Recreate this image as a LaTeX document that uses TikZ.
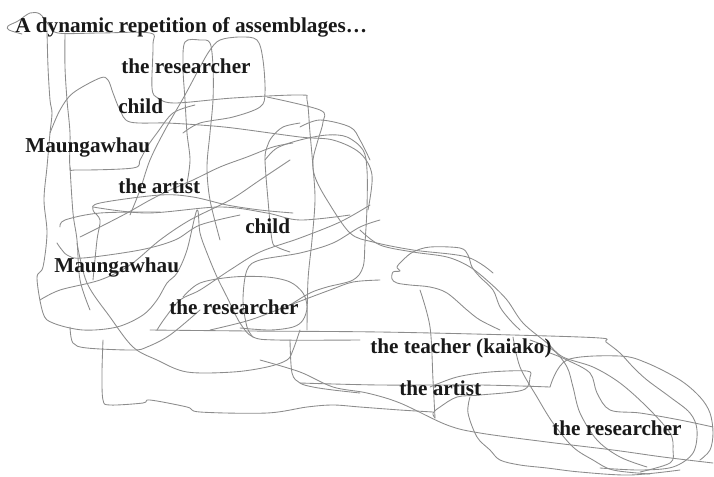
\documentclass[tikz,border=0pt]{standalone}
\usepackage{fontspec}
\setmainfont{Liberation Serif}
\usepackage{tikz}

\tikzset{
  scrib/.style={draw=black!45, line width=0.65pt, line join=round, line cap=round},
  lbl/.style={anchor=west, inner sep=0pt, text=black!90, font=\fontsize{15.9}{18}\selectfont\bfseries},
}

\begin{document}
\begin{tikzpicture}[x=0.75pt, y=-0.75pt]
	\useasboundingbox (0,0) rectangle (714,476);
	% scribbles, top left
	\draw[scrib] plot[smooth, tension=0.55] coordinates {(22,34) (9,30) (8,26) (18,21) (30,13) (40,14) (48,24) (58,33) (100,33) (150,33) (153,45) (152,88) (158,98) (175,103) (233,98) (300,95) (307,100) (310,133) (313,167) (315,200) (312,240) (308,280) (307,330)};
	\draw[scrib] plot[smooth, tension=0.55] coordinates {(47,30) (48,67) (50,100) (52,113) (50,133) (47,167) (44,200) (47,233) (43,267) (37,278) (43,313) (53,323) (83,330) (117,327) (143,315) (157,300) (167,283) (177,273) (187,250) (197,210) (200,233) (207,253) (217,277) (227,297) (240,323) (253,337) (277,340) (360,340)};
	\draw[scrib] plot[smooth, tension=0.55] coordinates {(65,33) (65,67) (67,100) (70,133) (70,167) (77,170) (133,168) (140,160) (147,147) (157,133) (173,113) (195,105)};
	\draw[scrib] plot[smooth, tension=0.55] coordinates {(50,133) (60,110) (73,93) (100,78) (108,80) (113,93) (120,110) (130,122) (167,123) (200,125) (233,128) (300,137) (333,140) (360,153) (372,175) (368,210)};
	\draw[scrib] plot[smooth, tension=0.55] coordinates {(187,183) (190,160) (187,133) (185,100) (183,67) (185,42) (200,40) (210,43) (213,67) (213,100) (210,133) (207,167) (210,200) (220,240)};
	\draw[scrib] plot[smooth, tension=0.55] coordinates {(183,133) (200,123) (233,117) (260,107) (265,93) (263,60) (257,40) (240,37) (220,40) (210,50) (200,67) (185,95) (165,130) (150,160) (140,190) (130,215)};
	\draw[scrib] plot[smooth, tension=0.55] coordinates {(267,97) (320,110) (323,122) (318,140) (313,160) (315,177) (327,200) (350,233) (373,242) (413,250) (467,257) (493,273)};
	\draw[scrib] plot[smooth, tension=0.55] coordinates {(265,160) (277,148) (300,140) (327,135) (347,137) (363,150) (367,170) (367,207) (365,243) (363,267) (353,280) (327,287) (310,293) (290,305)};
	\draw[scrib] plot[smooth, tension=0.55] coordinates {(300,123) (283,127) (272,137) (267,147) (265,160) (268,200) (272,240) (277,247) (290,252)};
	\draw[scrib] plot[smooth, tension=0.55] coordinates {(300,127) (320,120) (350,127) (360,140) (370,160)};
	% scribbles, left and middle
	\draw[scrib] plot[smooth, tension=0.55] coordinates {(60,227) (65,220) (100,213) (160,212)};
	\draw[scrib] plot[smooth, tension=0.55] coordinates {(57,243) (67,255) (83,258) (140,250) (175,240) (200,225) (240,215)};
	\draw[scrib] plot[smooth, tension=0.55] coordinates {(93,280) (97,240) (100,220) (93,210) (100,203) (160,195) (193,197) (227,205) (260,210) (293,213)};
	\draw[scrib] plot[smooth, tension=0.55] coordinates {(293,143) (273,147) (247,157) (220,167) (193,180) (170,190) (150,200) (127,213) (100,227) (80,237)};
	\draw[scrib] plot[smooth, tension=0.55] coordinates {(93,207) (147,213) (220,207) (267,213) (300,220) (350,215)};
	\draw[scrib] plot[smooth, tension=0.55] coordinates {(70,167) (73,213) (77,240) (80,280) (90,310)};
	\draw[scrib] plot[smooth, tension=0.55] coordinates {(40,300) (60,290) (100,280) (130,265) (160,240) (190,220) (230,200) (260,180) (290,160)};
	\draw[scrib] plot[smooth, tension=0.55] coordinates {(157,330) (165,318) (180,300) (200,290) (230,270) (260,252) (300,238) (340,222) (370,205)};
	\draw[scrib] plot[smooth, tension=0.55] coordinates {(210,330) (250,320) (290,305) (330,290) (353,282) (380,280)};
	\draw[scrib] plot[smooth, tension=0.55] coordinates {(77,243) (87,283) (110,317) (133,347) (157,360) (187,372) (233,372) (267,367) (287,360) (293,350) (300,330)};
	\draw[scrib] plot[smooth, tension=0.55] coordinates {(70,327) (73,343) (87,348) (133,350) (147,347) (170,335) (200,310)};
	\draw[scrib] plot[smooth, tension=0.55] coordinates {(183,297) (200,283) (233,277) (267,277) (290,282) (303,293) (307,307) (303,320) (293,327) (270,330) (240,328)};
	\draw[scrib] plot[smooth, tension=0.55] coordinates {(253,337) (247,327) (243,300) (247,270) (260,260) (300,253) (333,243) (360,227) (380,220)};
	\draw[scrib] plot[smooth, tension=0.55] coordinates {(290,340) (292,373) (300,383) (313,387) (333,390) (360,393)};
	\draw[scrib] plot[smooth, tension=0.55] coordinates {(103,340) (102,373) (103,400) (110,405) (143,403) (150,400) (187,407) (200,412) (267,413) (307,407) (333,405) (360,407) (400,410) (433,412)};
	% scribbles, tail and right lobe
	\draw[scrib] plot[smooth, tension=0.55] coordinates {(520,330) (510,320) (500,307) (493,290) (480,277) (472,267) (468,255) (460,248) (430,247) (413,252) (403,260) (397,267) (400,271) (393,272) (392,279) (397,283) (410,285) (430,287) (447,293) (467,310) (480,320) (500,330)};
	\draw[scrib] plot[smooth, tension=0.55] coordinates {(150,330) (250,331) (380,332) (513,335) (600,338) (606,342) (620,353) (633,367) (647,380) (670,397) (690,413) (697,430) (693,453) (673,467) (640,470) (600,468)};
	\draw[scrib] plot[smooth, tension=0.55] coordinates {(360,230) (380,245) (413,252) (447,257) (470,267) (490,283) (507,300) (523,323) (547,343) (563,357) (593,367) (620,383) (647,407) (670,433) (673,450) (670,463) (640,472)};
	\draw[scrib] plot[smooth, tension=0.55] coordinates {(513,337) (520,367) (537,397) (553,423) (573,447) (593,460) (613,470) (650,474)};
	\draw[scrib] plot[smooth, tension=0.55] coordinates {(550,387) (567,360) (620,356) (647,363) (680,380) (700,397) (710,413) (713,433) (710,450) (700,460)};
	\draw[scrib] plot[smooth, tension=0.55] coordinates {(550,353) (567,360) (590,373) (597,393) (610,410) (640,413) (680,420) (713,427)};
	\draw[scrib] plot[smooth, tension=0.55] coordinates {(530,340) (553,350) (567,367) (573,387) (580,413) (597,440) (620,457) (647,467)};
	\draw[scrib] plot[smooth, tension=0.55] coordinates {(300,383) (380,385) (480,385) (550,387)};
	\draw[scrib] plot[smooth, tension=0.55] coordinates {(430,387) (457,377) (490,372) (527,371) (530,377) (523,390) (480,395) (457,397) (440,407) (433,413) (435,418)};
	\draw[scrib] plot[smooth, tension=0.55] coordinates {(420,290) (430,327) (433,380) (435,418)};
	\draw[scrib] plot[smooth, tension=0.55] coordinates {(260,360) (300,372) (333,387) (367,393) (400,403) (447,425) (480,433) (547,442) (613,450) (663,457) (713,463)};
	\draw[scrib] plot[smooth, tension=0.55] coordinates {(470,397) (468,413) (477,437) (490,450) (500,460) (520,465) (547,468) (580,472) (630,475) (680,470)};
	% labels
	\node[lbl] (title) at (15,27) {A dynamic repetition of assemblages…};
	\node[lbl] (res1) at (121,66) {the researcher};
	\node[lbl] (child1) at (118,106) {child};
	\node[lbl] (maunga1) at (25,147) {Maungawhau};
	\node[lbl] (artist1) at (118,186) {the artist};
	\node[lbl] (child2) at (245,226) {child};
	\node[lbl] (maunga2) at (54,267) {Maungawhau};
	\node[lbl] (res2) at (169,307) {the researcher};
	\node[lbl] (teacher) at (370,348) {the teacher (kaiako)};
	\node[lbl] (artist2) at (399,388) {the artist};
	\node[lbl] (res3) at (552,428) {the researcher};
\end{tikzpicture}
\end{document}
